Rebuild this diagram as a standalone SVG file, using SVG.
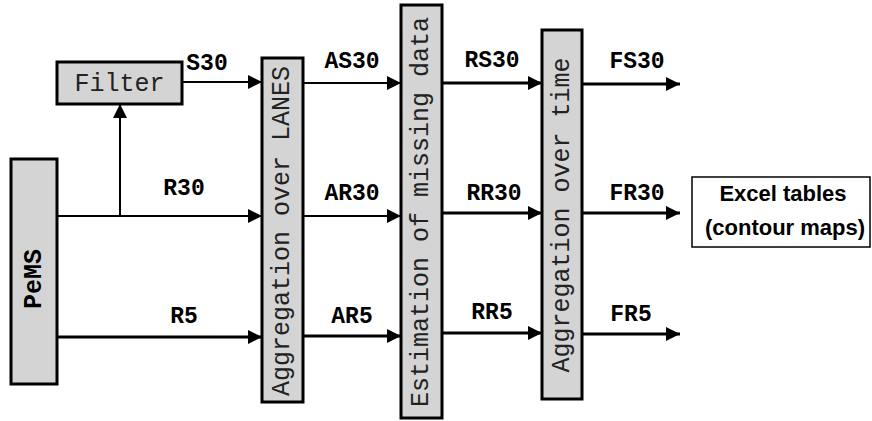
<svg xmlns="http://www.w3.org/2000/svg" width="872" height="421" viewBox="0 0 872 421">
<defs>
<marker id="ah" viewBox="0 0 10 10" refX="10" refY="5" markerWidth="15" markerHeight="14" markerUnits="userSpaceOnUse" orient="auto"><path d="M0,0 L10,5 L0,10 z" fill="#000"/></marker>
<style>
.box{fill:#d4d4d4;stroke:#000;stroke-width:3}
.vt{font-family:"Liberation Mono","Courier New",monospace;font-size:25px;fill:#222;text-anchor:middle;dominant-baseline:central}
.lb{font-family:"Liberation Mono","Courier New",monospace;font-size:23px;font-weight:bold;fill:#000;text-anchor:middle}
.thin{stroke:#000;stroke-width:2;fill:none}
.thick{stroke:#000;stroke-width:3;fill:none}
.ex{font-family:"Liberation Sans",Arial,sans-serif;font-size:22px;font-weight:bold;text-anchor:middle;fill:#000}
</style>
</defs>
<rect width="872" height="421" fill="#fff"/>
<g id="connectors">
<path class="thin" d="M182,82 H262" marker-end="url(#ah)"/>
<path class="thin" d="M57,216 H262" marker-end="url(#ah)"/>
<path class="thin" d="M120,216 V104" marker-end="url(#ah)"/>
<path class="thick" d="M57,337 H262" marker-end="url(#ah)"/>
<path class="thin" d="M303,83 H401" marker-end="url(#ah)"/>
<path class="thin" d="M303,216 H401" marker-end="url(#ah)"/>
<path class="thick" d="M303,336 H401" marker-end="url(#ah)"/>
<path class="thick" d="M442,83 H542" marker-end="url(#ah)"/>
<path class="thick" d="M442,213 H542" marker-end="url(#ah)"/>
<path class="thick" d="M442,333 H542" marker-end="url(#ah)"/>
<path class="thick" d="M582,84 H680" marker-end="url(#ah)"/>
<path class="thick" d="M582,213 H680" marker-end="url(#ah)"/>
<path class="thick" d="M582,334 H680" marker-end="url(#ah)"/>
<text class="lb" x="207" y="70">S30</text>
<text class="lb" x="184" y="195">R30</text>
<text class="lb" x="184" y="323">R5</text>
<text class="lb" x="352" y="68">AS30</text>
<text class="lb" x="352" y="200">AR30</text>
<text class="lb" x="352" y="323">AR5</text>
<text class="lb" x="492" y="67">RS30</text>
<text class="lb" x="494" y="200">RR30</text>
<text class="lb" x="492" y="319">RR5</text>
<text class="lb" x="637" y="68">FS30</text>
<text class="lb" x="637" y="200">FR30</text>
<text class="lb" x="631" y="321">FR5</text>
</g>
<g id="pems">
<rect class="box" x="11" y="159" width="46" height="225"/>
<text class="vt" style="font-weight:bold;fill:#000" transform="translate(34,279) rotate(-90)">PeMS</text>
</g>
<g id="filter">
<rect class="box" x="57" y="62" width="125" height="42"/>
<text class="vt" x="119.5" y="84">Filter</text>
</g>
<g id="agg-lanes">
<rect class="box" x="262" y="58" width="41" height="344"/>
<text class="vt" transform="translate(282.5,231) rotate(-90)">Aggregation over LANES</text>
</g>
<g id="estimation">
<rect class="box" x="401" y="5" width="41" height="413"/>
<text class="vt" transform="translate(421.5,212) rotate(-90)">Estimation of missing data</text>
</g>
<g id="agg-time">
<rect class="box" x="542" y="30" width="40" height="369"/>
<text class="vt" transform="translate(562,215) rotate(-90)">Aggregation over time</text>
</g>
<g id="excel">
<rect x="692" y="177" width="178" height="70" fill="#fff" stroke="#000" stroke-width="1.5"/>
<text class="ex" x="783" y="201">Excel tables</text>
<text class="ex" x="785" y="235">(contour maps)</text>
</g>
</svg>
